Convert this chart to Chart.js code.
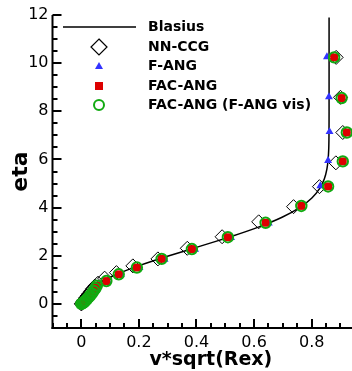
<!DOCTYPE html>
<html>
<head>
<meta charset="utf-8">
<script src="https://cdn.jsdelivr.net/npm/chart.js@4.4.1/dist/chart.umd.min.js"></script>
<style>
  html, body { margin: 0; padding: 0; background: #fff; }
</style>
</head>
<body>
<canvas id="profileChart" width="352" height="371"></canvas>
<script>
// Blasius similarity solution, v*sqrt(Rex) against eta
const blasiusEta = [0, 0.4, 0.8, 1.2, 1.6, 2.0, 2.4, 2.8, 3.2, 3.6, 4.0, 4.4, 4.8, 5.2, 5.6, 6.0, 6.4, 6.8, 7.2, 8.0, 11.9];
const blasiusV   = [0, 0.0133, 0.0528, 0.1173, 0.2033, 0.3048, 0.4136, 0.5206, 0.6172, 0.6972, 0.7582, 0.8007, 0.8280, 0.8441, 0.8528, 0.8571, 0.8591, 0.8599, 0.8602, 0.8604, 0.8604];

// NN-CCG
const nnEta = [0, 0.03, 0.07, 0.12, 0.18, 0.25, 0.33, 0.42, 0.52, 0.63, 0.74, 0.86, 1.07, 1.30, 1.58, 1.87, 2.31, 2.79, 3.41, 4.04, 4.87, 5.86, 7.12, 8.58, 10.24];
const nnV   = [0, 0.002, 0.004, 0.007, 0.011, 0.015, 0.020, 0.026, 0.032, 0.039, 0.047, 0.058, 0.081, 0.122, 0.179, 0.266, 0.368, 0.489, 0.616, 0.737, 0.827, 0.884, 0.908, 0.900, 0.885];

// F-ANG
const fangEta = [0, 0.02, 0.05, 0.09, 0.14, 0.20, 0.27, 0.35, 0.44, 0.54, 0.65, 0.76, 0.95, 1.22, 1.50, 1.85, 2.26, 2.75, 3.35, 4.06, 4.90, 5.95, 7.15, 8.60, 10.26];
const fangV   = [0, 0.005, 0.008, 0.012, 0.016, 0.021, 0.027, 0.033, 0.039, 0.045, 0.052, 0.058, 0.092, 0.137, 0.202, 0.289, 0.395, 0.520, 0.651, 0.762, 0.830, 0.857, 0.862, 0.860, 0.853];

// FAC-ANG
const facEta = [0, 0.02, 0.05, 0.09, 0.14, 0.20, 0.27, 0.35, 0.44, 0.54, 0.65, 0.76, 0.95, 1.23, 1.51, 1.87, 2.28, 2.77, 3.37, 4.07, 4.88, 5.92, 7.12, 8.55, 10.24];
const facV   = [0, 0.004, 0.007, 0.011, 0.015, 0.020, 0.025, 0.031, 0.037, 0.043, 0.049, 0.054, 0.087, 0.130, 0.193, 0.279, 0.384, 0.509, 0.640, 0.764, 0.857, 0.908, 0.922, 0.904, 0.878];

// FAC-ANG (F-ANG vis)
const facVisEta = [0, 0.02, 0.05, 0.09, 0.14, 0.20, 0.27, 0.35, 0.44, 0.54, 0.65, 0.76, 0.95, 1.23, 1.51, 1.87, 2.28, 2.77, 3.37, 4.07, 4.88, 5.92, 7.12, 8.55, 10.24];
const facVisV   = [0, 0.004, 0.007, 0.011, 0.015, 0.020, 0.025, 0.031, 0.037, 0.043, 0.049, 0.054, 0.087, 0.130, 0.193, 0.279, 0.384, 0.509, 0.640, 0.764, 0.857, 0.908, 0.922, 0.904, 0.878];

const xTickLabels = [0, 0.2, 0.4, 0.6, 0.8];
const yTickLabels = [0, 2, 4, 6, 8, 10, 12];
const xMinorStep = 0.05;
const yMinorStep = 0.5;

const seriesNames = ['Blasius', 'NN-CCG', 'F-ANG', 'FAC-ANG', 'FAC-ANG (F-ANG vis)'];
const xTitle = 'v*sqrt(Rex)';

const BLUE = '#3333ff';
const RED = '#dd0000';
const GREEN = '#11aa11';
const FONT = 'DejaVu Sans, sans-serif';

const toPoints = (xs, ys) => xs.map((x, i) => ({ x: x, y: ys[i] }));

// axes, inward ticks, x title and the legend, drawn tecplot style
const tecplotFrame = {
    id: 'tecplotFrame',
    afterDraw(chart) {
        const c = chart.ctx;
        const sx = chart.scales.x;
        const sy = chart.scales.y;
        const area = chart.chartArea;
        c.save();
        c.fillStyle = '#000';

        // axis lines
        c.fillRect(area.left - 1, area.top, 2, area.bottom - area.top + 1);
        c.fillRect(area.left - 1, area.bottom - 1, area.right - area.left + 1, 2);

        // ticks, pointing into the plot
        for (let i = 0; i <= 21; i++) {
            const v = -0.1 + i * xMinorStep;
            const len = xTickLabels.some(t => Math.abs(t - v) < 1e-6) ? 9 : 5;
            const px = Math.round(sx.getPixelForValue(v));
            c.fillRect(px - 1, area.bottom - len, 2, len);
        }
        for (let i = 0; i <= 26; i++) {
            const v = -1 + i * yMinorStep;
            const len = yTickLabels.some(t => Math.abs(t - v) < 1e-6) ? 9 : 5;
            const py = Math.round(sy.getPixelForValue(v));
            c.fillRect(area.left, py - 1, len, 2);
        }

        // x title, centred on the full tecplot frame (-0.1 .. 1.0)
        c.font = 'bold 19px ' + FONT;
        c.textAlign = 'center';
        c.textBaseline = 'middle';
        c.fillText(xTitle, sx.getPixelForValue(0.45), 360);

        // legend
        const symX = 99;
        const textX = 148;
        const rows = [27, 47, 66, 86, 105];
        c.fillRect(63, rows[0] - 0.75, 73, 1.5);

        c.strokeStyle = '#000';
        c.lineWidth = 1.2;
        c.beginPath();
        c.moveTo(symX, rows[1] - 8);
        c.lineTo(symX + 8, rows[1]);
        c.lineTo(symX, rows[1] + 8);
        c.lineTo(symX - 8, rows[1]);
        c.closePath();
        c.stroke();

        c.fillStyle = BLUE;
        c.beginPath();
        c.moveTo(symX, rows[2] - 4);
        c.lineTo(symX + 4, rows[2] + 3);
        c.lineTo(symX - 4, rows[2] + 3);
        c.closePath();
        c.fill();

        c.fillStyle = RED;
        c.fillRect(symX - 4, rows[3] - 4, 8, 8);

        c.strokeStyle = GREEN;
        c.lineWidth = 2;
        c.beginPath();
        c.arc(symX, rows[4], 5, 0, Math.PI * 2);
        c.stroke();

        c.fillStyle = '#000';
        c.font = 'bold 14px ' + FONT;
        c.textAlign = 'left';
        c.textBaseline = 'middle';
        seriesNames.forEach((name, i) => c.fillText(name, textX, rows[i]));
        c.restore();
    }
};

const profileChart = new Chart(document.getElementById('profileChart'), {
    type: 'scatter',
    data: {
        datasets: [
            {
                label: seriesNames[0],
                data: toPoints(blasiusV, blasiusEta),
                showLine: true,
                borderColor: '#000',
                borderWidth: 1.5,
                pointRadius: 0,
                tension: 0.2,
                order: 5
            },
            {
                label: seriesNames[1],
                data: toPoints(nnV, nnEta),
                pointStyle: 'rectRot',
                pointRadius: 7,
                borderColor: '#000',
                borderWidth: 1,
                backgroundColor: 'rgba(0,0,0,0)',
                order: 4
            },
            {
                label: seriesNames[2],
                data: toPoints(fangV, fangEta),
                pointStyle: 'triangle',
                pointRadius: 4.6,
                borderWidth: 0,
                backgroundColor: BLUE,
                order: 3
            },
            {
                label: seriesNames[3],
                data: toPoints(facV, facEta),
                pointStyle: 'rect',
                pointRadius: 5.6,
                borderWidth: 0,
                backgroundColor: RED,
                order: 2
            },
            {
                label: seriesNames[4],
                data: toPoints(facVisV, facVisEta),
                pointStyle: 'circle',
                pointRadius: 5.2,
                borderColor: GREEN,
                borderWidth: 2,
                backgroundColor: 'rgba(0,0,0,0)',
                order: 1
            }
        ]
    },
    options: {
        responsive: false,
        animation: false,
        events: [],
        clip: false,
        layout: { autoPadding: false, padding: { top: 15, right: 0, left: 0, bottom: 0 } },
        plugins: {
            legend: { display: false },
            tooltip: { enabled: false }
        },
        scales: {
            x: {
                type: 'linear',
                min: -0.1,
                max: 0.94,
                grid: { display: false, drawTicks: false },
                border: { display: false },
                afterBuildTicks: (scale) => { scale.ticks = xTickLabels.map(v => ({ value: v })); },
                afterFit: (scale) => { scale.height = 43; },
                ticks: {
                    color: '#000',
                    padding: 5,
                    maxRotation: 0,
                    autoSkip: false,
                    font: { family: FONT, size: 16 },
                    callback: (value) => String(value)
                }
            },
            y: {
                type: 'linear',
                min: -1,
                max: 12,
                grid: { display: false, drawTicks: false },
                border: { display: false },
                afterBuildTicks: (scale) => { scale.ticks = yTickLabels.map(v => ({ value: v })); },
                afterFit: (scale) => { scale.width = 52.5; },
                ticks: {
                    color: '#000',
                    padding: 4,
                    autoSkip: false,
                    font: { family: FONT, size: 16 },
                    callback: (value) => String(value)
                },
                title: {
                    display: true,
                    text: 'eta',
                    color: '#000',
                    padding: { top: 8, bottom: 0 },
                    font: { family: FONT, size: 22, weight: 'bold', lineHeight: 1.2 }
                }
            }
        }
    },
    plugins: [tecplotFrame]
});
</script>
</body>
</html>
